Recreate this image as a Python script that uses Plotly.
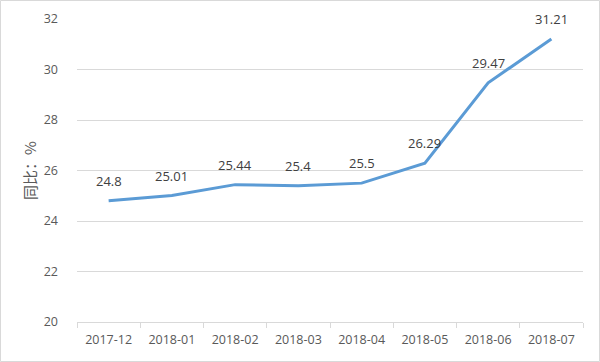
import plotly.graph_objects as go

categories = ["2017-12", "2018-01", "2018-02", "2018-03", "2018-04", "2018-05", "2018-06", "2018-07"]
values = [24.8, 25.01, 25.44, 25.4, 25.5, 26.29, 29.47, 31.21]
labels = ["24.8", "25.01", "25.44", "25.4", "25.5", "26.29", "29.47", "31.21"]
y_ticks = [20, 22, 24, 26, 28, 30, 32]

W, H = 600, 362
L, R, T, B = 77, 17, 19, 40
pw, ph = W - L - R, H - T - B

fig = go.Figure()
fig.add_trace(go.Scatter(
    x=categories, y=values, mode="lines",
    line=dict(color="#5B9BD5", width=3),
    cliponaxis=False, hoverinfo="skip",
))

for c, v, t in zip(categories, values, labels):
    fig.add_annotation(
        x=c, y=v, text=t, showarrow=False, yshift=20,
        font=dict(family="Open Sans, DejaVu Sans", size=13, color="#404040"),
    )

fig.update_layout(
    width=W, height=H,
    margin=dict(l=L, r=R, t=T, b=B, autoexpand=False),
    paper_bgcolor="white", plot_bgcolor="white",
    showlegend=False,
    font=dict(family="Open Sans, DejaVu Sans", color="#595959", size=12),
    xaxis=dict(
        type="category", tickson="boundaries", ticks="outside", ticklen=5,
        tickcolor="#d9d9d9", showline=True, linecolor="#d9d9d9", linewidth=1,
        showgrid=False, range=[-0.5, 7.5], automargin=False,
        ticklabelstandoff=6,
        tickfont=dict(size=12.5, color="#595959"),
    ),
    yaxis=dict(
        range=[20, 32], tickvals=y_ticks, showgrid=True, gridcolor="#d9d9d9",
        gridwidth=1, zeroline=False, showline=False, ticks="", ticklen=0,
        automargin=False, ticklabelstandoff=18,
        tickfont=dict(size=12.5, color="#595959"),
        title=dict(text="同比：%", font=dict(family="Noto Sans CJK SC", size=15, color="#595959"), standoff=3),
    ),
)

fig.add_shape(
    type="rect", xref="paper", yref="paper",
    x0=-(L - 0.5) / pw, x1=(W - 0.5 - L) / pw,
    y0=(T + ph - (H - 0.5)) / ph, y1=(T + ph - 0.5) / ph,
    line=dict(color="#d9d9d9", width=1), layer="below",
)

fig.write_html("out.html", config={"displayModeBar": False},
               post_script="document.body.style.margin='0';document.body.style.padding='0';")
